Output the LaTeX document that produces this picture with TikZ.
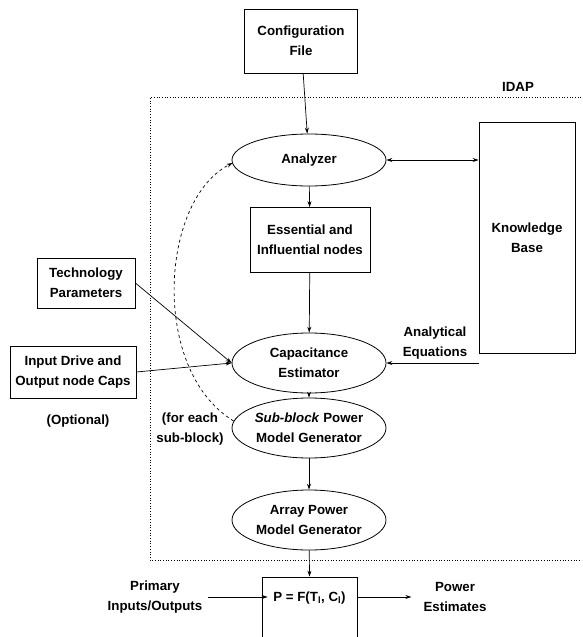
\documentclass[tikz,border=0pt]{standalone}
\usepackage{fontspec}
\setmainfont{Liberation Sans}
\usetikzlibrary{shapes.geometric,arrows.meta}
\begin{document}
\begin{tikzpicture}[x=1pt,y=-1pt,
  every node/.style={font=\fontsize{13.3}{20}\selectfont\bfseries, align=center, inner sep=0pt},
  box/.style={draw, rectangle, line width=0.8pt},
  oval/.style={draw, ellipse, line width=0.8pt, minimum width=154pt},
  conn/.style={line width=0.7pt, -{Stealth[length=6pt,width=4pt]}},
  lbl/.style={}
]
\useasboundingbox (0,0) rectangle (582,637);
\clip (0,0) rectangle (582,637);
% IDAP boundary
\draw[dotted, line width=0.7pt] (600,97) -- (150,97) -- (150,560) -- (600,560);
\node[lbl] (idap) at (518,87) {IDAP};

\node[box, minimum width=113pt, minimum height=64pt] (cfg) at (301,41) {Configuration\\File};
\node[oval, minimum height=52pt] (ana) at (309,160) {Analyzer};
\node[box, minimum width=96pt, minimum height=231pt] (kb) at (527,237.5) {Knowledge\\Base};
\node[box, minimum width=120pt, minimum height=65pt] (ess) at (310,240) {Essential and\\Influential nodes};
\node[oval, minimum height=60pt] (cap) at (309,363) {Capacitance\\Estimator};
\node[lbl] (aeq) at (435,343) {Analytical\\Equations};
\node[box, minimum width=98pt, minimum height=50pt] (tech) at (86,283) {Technology\\Parameters};
\node[box, minimum width=126pt, minimum height=52pt] (inp) at (73,372) {Input Drive and\\Output node Caps};
\node[lbl] (opt) at (78,421) {(Optional)};
\node[lbl] (each) at (190,429) {(for each\\sub-block)};
\node[oval, minimum height=60pt] (sub) at (309,428) {\textit{Sub-block} Power\\Model Generator};
\node[oval, minimum height=60pt] (arr) at (309,520) {Array Power\\Model Generator};
\node[box, minimum width=95pt, text height=24pt, text depth=50pt, anchor=base] (pf) at (309.5,601) {P = F(T\textsubscript{l}, C\textsubscript{l})};
\node[lbl] (prim) at (155,597) {Primary\\Inputs/Outputs};
\node[lbl] (pow) at (455,597) {Power\\Estimates};

\draw[conn] (cfg) -- (ana);
\draw[line width=0.7pt, {Stealth[length=6pt,width=4pt]}-{Stealth[length=6pt,width=4pt]}] (ana) -- (ana -| kb.west);
\draw[conn] (ana) -- (ess);
\draw[conn] (ess) -- (cap);
\draw[conn] (kb.west |- cap) -- (cap);
\draw[conn] (tech.east) -- (cap.west);
\draw[conn] (inp.east) -- (cap.west);
\draw[conn] (cap) -- (sub);
\draw[conn] (sub) -- (arr);
\draw[conn] (arr) -- (pf.north);
\draw[conn] ([xshift=6pt]prim.east) -- ([xshift=6pt]prim.east -| pf.west);
\draw[conn] (pf.east |- pow.west) -- ([xshift=-12pt]pow.west);
\draw[conn, dashed] (sub.west) ++(2,-7) coordinate (ds) .. controls (150,370) and (160,200) .. ([xshift=1pt,yshift=-3pt]ana.west);
\end{tikzpicture}
\end{document}
